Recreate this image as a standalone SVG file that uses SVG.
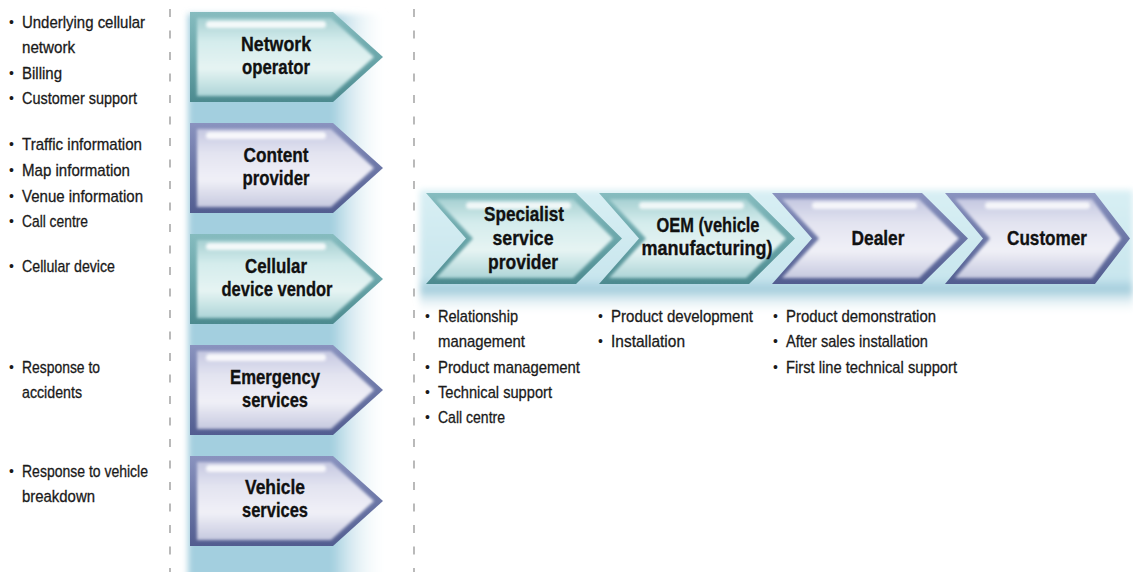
<svg xmlns="http://www.w3.org/2000/svg" xmlns:xlink="http://www.w3.org/1999/xlink" width="1133" height="572" viewBox="0 0 1133 572">
<style>
.lbl{font-family:"Liberation Sans",Arial,sans-serif;font-weight:bold;font-size:21px;fill:#111;stroke:#111;stroke-width:0.35;text-anchor:middle}
.bt{font-family:"Liberation Sans",Arial,sans-serif;font-size:17px;fill:#1a1a1a;stroke:#1a1a1a;stroke-width:0.3}
.bu{font-family:"Liberation Sans",Arial,sans-serif;font-size:14px;fill:#1a1a1a}
.dash{stroke:#8c8c8c;stroke-width:1.2;stroke-dasharray:8 13.5;fill:none}
</style>
<defs>
<linearGradient id="tealFrame" x1="0" y1="0" x2="0" y2="1"><stop offset="0" stop-color="#86bcbf"/><stop offset="0.5" stop-color="#6aa6aa"/><stop offset="1" stop-color="#4c8a8f"/></linearGradient>
<linearGradient id="tealFill" x1="0" y1="0" x2="0" y2="1"><stop offset="0" stop-color="#a6d0d2"/><stop offset="0.3" stop-color="#d4ecec"/><stop offset="0.65" stop-color="#e6f4f3"/><stop offset="1" stop-color="#add5d7"/></linearGradient>
<linearGradient id="purFrame" x1="0" y1="0" x2="0" y2="1"><stop offset="0" stop-color="#8a93bf"/><stop offset="0.5" stop-color="#6b76a6"/><stop offset="1" stop-color="#525d90"/></linearGradient>
<linearGradient id="purFill" x1="0" y1="0" x2="0" y2="1"><stop offset="0" stop-color="#c4c7e0"/><stop offset="0.3" stop-color="#e2e3f0"/><stop offset="0.65" stop-color="#f0f0f7"/><stop offset="1" stop-color="#c6c9df"/></linearGradient>
<linearGradient id="bandL" x1="0" y1="0" x2="1" y2="0"><stop offset="0" stop-color="#a3cfdf"/><stop offset="0.72" stop-color="#a3cfdf"/><stop offset="1" stop-color="#ffffff" stop-opacity="0"/></linearGradient>
<linearGradient id="bandR" x1="0" y1="0" x2="0" y2="1"><stop offset="0" stop-color="#d8eff4"/><stop offset="0.7" stop-color="#c9e6ee"/><stop offset="0.8" stop-color="#a2ccdb"/><stop offset="1" stop-color="#ffffff" stop-opacity="0"/></linearGradient>
<filter id="soft" x="-10%" y="-10%" width="120%" height="120%"><feGaussianBlur stdDeviation="3"/></filter>
<filter id="bev" x="-5%" y="-5%" width="110%" height="110%"><feGaussianBlur stdDeviation="1.8"/></filter>
<filter id="hl" x="-10%" y="-50%" width="120%" height="200%"><feGaussianBlur stdDeviation="1.6"/></filter>
<g id="lchT">
<polygon points="190,0 333,0 383,45 333,90 190,90" fill="url(#tealFrame)"/>
<polygon points="197,6 331,6 374,45 331,84 197,84" fill="url(#tealFill)" filter="url(#bev)"/>
<rect x="206" y="9" width="120" height="7" rx="3.5" fill="#fff" opacity="0.85" filter="url(#hl)"/>
</g>
<g id="lchP">
<polygon points="190,0 333,0 383,45 333,90 190,90" fill="url(#purFrame)"/>
<polygon points="197,6 331,6 374,45 331,84 197,84" fill="url(#purFill)" filter="url(#bev)"/>
<rect x="206" y="9" width="120" height="7" rx="3.5" fill="#fff" opacity="0.85" filter="url(#hl)"/>
</g>
<g id="rchT">
<polygon points="0,0 150,0 196,45.5 150,91 0,91 40,45.5" fill="url(#tealFrame)"/>
<polygon points="10,6 147,6 187,45.5 147,85 10,85 47,45.5" fill="url(#tealFill)" filter="url(#bev)"/>
<rect x="40" y="9" width="105" height="7" rx="3.5" fill="#fff" opacity="0.8" filter="url(#hl)"/>
</g>
<g id="rchP">
<polygon points="0,0 150,0 196,45.5 150,91 0,91 40,45.5" fill="url(#purFrame)"/>
<polygon points="10,6 147,6 187,45.5 147,85 10,85 47,45.5" fill="url(#purFill)" filter="url(#bev)"/>
<rect x="40" y="9" width="105" height="7" rx="3.5" fill="#fff" opacity="0.8" filter="url(#hl)"/>
</g>
<g id="rchPs">
<polygon points="0,0 150,0 185,45.5 150,91 0,91 38,45.5" fill="url(#purFrame)"/>
<polygon points="10,6 147,6 176,45.5 147,85 10,85 45,45.5" fill="url(#purFill)" filter="url(#bev)"/>
<rect x="40" y="9" width="105" height="7" rx="3.5" fill="#fff" opacity="0.8" filter="url(#hl)"/>
</g>
</defs>
<rect width="1133" height="572" fill="#fff"/>
<!-- background bands -->
<rect x="188" y="14" width="200" height="570" fill="url(#bandL)" filter="url(#soft)"/>
<rect x="420" y="190" width="713" height="125" fill="url(#bandR)" filter="url(#soft)"/>
<!-- dividers -->
<g id="connectors">
<line class="dash" x1="170" y1="9" x2="170" y2="572"/>
<line class="dash" x1="414" y1="9" x2="414" y2="572"/>
</g>
<!-- left column nodes -->
<g id="network-operator">
<use xlink:href="#lchT" y="12"/>
<text class="lbl" x="276" y="51" textLength="70" lengthAdjust="spacingAndGlyphs">Network</text>
<text class="lbl" x="276" y="74" textLength="68" lengthAdjust="spacingAndGlyphs">operator</text>
</g>
<g id="content-provider">
<use xlink:href="#lchP" y="123"/>
<text class="lbl" x="276" y="162" textLength="65" lengthAdjust="spacingAndGlyphs">Content</text>
<text class="lbl" x="276" y="185" textLength="67" lengthAdjust="spacingAndGlyphs">provider</text>
</g>
<g id="cellular-device-vendor">
<use xlink:href="#lchT" y="234"/>
<text class="lbl" x="276" y="273" textLength="62" lengthAdjust="spacingAndGlyphs">Cellular</text>
<text class="lbl" x="277" y="296" textLength="111" lengthAdjust="spacingAndGlyphs">device vendor</text>
</g>
<g id="emergency-services">
<use xlink:href="#lchP" y="345"/>
<text class="lbl" x="275" y="384" textLength="90" lengthAdjust="spacingAndGlyphs">Emergency</text>
<text class="lbl" x="275" y="407" textLength="66" lengthAdjust="spacingAndGlyphs">services</text>
</g>
<g id="vehicle-services">
<use xlink:href="#lchP" y="456"/>
<text class="lbl" x="275" y="494" textLength="60" lengthAdjust="spacingAndGlyphs">Vehicle</text>
<text class="lbl" x="275" y="517" textLength="66" lengthAdjust="spacingAndGlyphs">services</text>
</g>
<!-- row nodes -->
<g id="specialist-service-provider">
<use xlink:href="#rchT" x="426" y="193"/>
<text class="lbl" x="524" y="221" textLength="80" lengthAdjust="spacingAndGlyphs">Specialist</text>
<text class="lbl" x="523" y="245" textLength="61" lengthAdjust="spacingAndGlyphs">service</text>
<text class="lbl" x="523" y="269" textLength="70" lengthAdjust="spacingAndGlyphs">provider</text>
</g>
<g id="oem">
<use xlink:href="#rchT" x="599" y="193"/>
<text class="lbl" x="708" y="232" textLength="103" lengthAdjust="spacingAndGlyphs">OEM (vehicle</text>
<text class="lbl" x="707" y="255" textLength="131" lengthAdjust="spacingAndGlyphs">manufacturing)</text>
</g>
<g id="dealer">
<use xlink:href="#rchP" x="772" y="193"/>
<text class="lbl" x="878" y="245" textLength="53" lengthAdjust="spacingAndGlyphs">Dealer</text>
</g>
<g id="customer">
<use xlink:href="#rchPs" x="945" y="193"/>
<text class="lbl" x="1047" y="245" textLength="80" lengthAdjust="spacingAndGlyphs">Customer</text>
</g>
<!-- left bullet texts -->
<g id="left-notes">
<text class="bu" x="9" y="27">•</text><text class="bt" x="22" y="28" textLength="123" lengthAdjust="spacingAndGlyphs">Underlying cellular</text>
<text class="bt" x="22" y="53" textLength="53" lengthAdjust="spacingAndGlyphs">network</text>
<text class="bu" x="9" y="78">•</text><text class="bt" x="22" y="79" textLength="40" lengthAdjust="spacingAndGlyphs">Billing</text>
<text class="bu" x="9" y="103">•</text><text class="bt" x="22" y="104" textLength="115" lengthAdjust="spacingAndGlyphs">Customer support</text>
<text class="bu" x="9" y="149">•</text><text class="bt" x="22" y="150" textLength="120" lengthAdjust="spacingAndGlyphs">Traffic information</text>
<text class="bu" x="9" y="175">•</text><text class="bt" x="22" y="176" textLength="108" lengthAdjust="spacingAndGlyphs">Map information</text>
<text class="bu" x="9" y="201">•</text><text class="bt" x="22" y="202" textLength="121" lengthAdjust="spacingAndGlyphs">Venue information</text>
<text class="bu" x="9" y="226">•</text><text class="bt" x="22" y="227" textLength="66" lengthAdjust="spacingAndGlyphs">Call centre</text>
<text class="bu" x="9" y="271">•</text><text class="bt" x="22" y="272" textLength="93" lengthAdjust="spacingAndGlyphs">Cellular device</text>
<text class="bu" x="9" y="372">•</text><text class="bt" x="22" y="373" textLength="78" lengthAdjust="spacingAndGlyphs">Response to</text>
<text class="bt" x="22" y="398" textLength="60" lengthAdjust="spacingAndGlyphs">accidents</text>
<text class="bu" x="9" y="476">•</text><text class="bt" x="22" y="477" textLength="126" lengthAdjust="spacingAndGlyphs">Response to vehicle</text>
<text class="bt" x="22" y="502" textLength="73" lengthAdjust="spacingAndGlyphs">breakdown</text>
</g>
<!-- row bullet texts -->
<g id="row-notes">
<text class="bu" x="425" y="321">•</text><text class="bt" x="438" y="322" textLength="80" lengthAdjust="spacingAndGlyphs">Relationship</text>
<text class="bt" x="438" y="347" textLength="87" lengthAdjust="spacingAndGlyphs">management</text>
<text class="bu" x="425" y="372">•</text><text class="bt" x="438" y="373" textLength="142" lengthAdjust="spacingAndGlyphs">Product management</text>
<text class="bu" x="425" y="397">•</text><text class="bt" x="438" y="398" textLength="114" lengthAdjust="spacingAndGlyphs">Technical support</text>
<text class="bu" x="425" y="422">•</text><text class="bt" x="438" y="423" textLength="67" lengthAdjust="spacingAndGlyphs">Call centre</text>
<text class="bu" x="598" y="321">•</text><text class="bt" x="611" y="322" textLength="142" lengthAdjust="spacingAndGlyphs">Product development</text>
<text class="bu" x="598" y="346">•</text><text class="bt" x="611" y="347" textLength="74" lengthAdjust="spacingAndGlyphs">Installation</text>
<text class="bu" x="773" y="321">•</text><text class="bt" x="786" y="322" textLength="150" lengthAdjust="spacingAndGlyphs">Product demonstration</text>
<text class="bu" x="773" y="346">•</text><text class="bt" x="786" y="347" textLength="142" lengthAdjust="spacingAndGlyphs">After sales installation</text>
<text class="bu" x="773" y="372">•</text><text class="bt" x="786" y="373" textLength="171" lengthAdjust="spacingAndGlyphs">First line technical support</text>
</g>
</svg>
